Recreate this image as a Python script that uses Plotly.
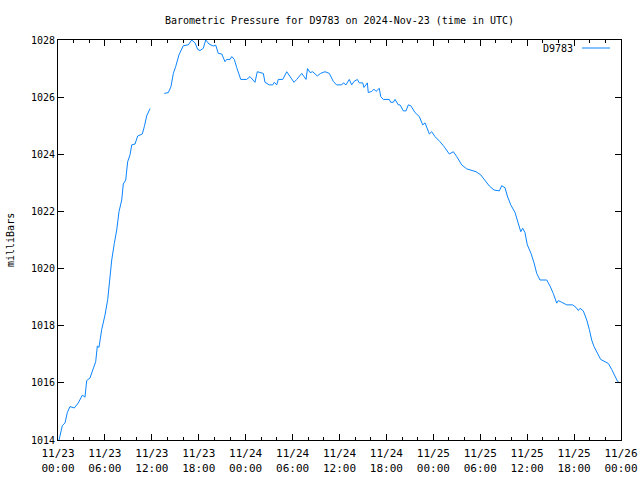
import pandas as pd
import plotly.graph_objects as go

start = pd.Timestamp("2024-11-23 00:00")
end = pd.Timestamp("2024-11-26 00:00")

# hours since 2024-11-23 00:00 UTC (None marks a gap in the record)
hours = [0.13, 0.26, 0.55, 0.90, 1.19, 1.53, 2.08, 2.60, 3.11, 3.45, 3.67, 4.09, 4.51, 4.82,
         5.03, 5.24, 5.59, 6.01, 6.36, 6.65, 6.87, 7.20, 7.51, 7.80, 8.15, 8.35, 8.66, 8.91,
         9.21, 9.43, 9.85, 10.19, 10.78, 11.04, 11.34, 11.77, 12.6,
         13.59, 14.11, 14.45, 14.75, 15.05, 15.47, 16.02, 16.66, 17.10, 17.52, 17.87, 18.16,
         18.58, 18.89, 19.31, 19.86, 20.17, 20.50, 20.94, 21.36, 21.58, 22.00, 22.22, 22.55,
         22.85, 23.06, 23.37, 24.13, 24.55, 25.19, 25.49, 26.26, 26.47, 27.02, 27.46, 27.66,
         27.97, 28.17, 28.74, 29.25, 29.67, 30.18, 30.53, 31.17, 31.46, 31.72, 31.91, 32.23,
         32.57, 32.87, 33.16, 33.57, 34.15, 34.70, 35.00, 35.21, 35.62, 36.28, 36.49, 36.83,
         37.25, 37.56, 37.86, 38.28, 38.53, 38.97, 39.13, 39.56, 39.68, 40.12, 40.41, 40.67,
         41.09, 41.27, 41.60, 42.37, 42.55, 42.88, 43.10, 43.52, 43.74, 44.16, 44.51, 44.80,
         45.11, 45.66, 46.21, 46.64, 46.94, 47.16, 47.49, 47.79, 48.21, 48.85, 49.37, 50.04,
         50.56, 50.99, 51.63, 52.27, 52.91, 53.46, 54.06, 54.61, 55.16, 55.76, 56.44, 56.74,
         57.17, 57.46, 57.90, 58.45, 58.87, 59.18, 59.43, 59.72, 60.02, 60.49, 60.88, 61.22,
         61.64, 62.50, 62.92, 63.34, 63.78, 63.98, 64.42, 65.06, 65.83, 66.25, 66.55, 66.76,
         67.18, 67.62, 67.95, 68.25, 68.55, 68.89, 69.40, 69.96, 70.38, 70.81, 71.23, 71.58,
         71.87]

pressure = [1014.0, 1014.2, 1014.5, 1014.6, 1014.96, 1015.17, 1015.12, 1015.3, 1015.57, 1015.5,
            1016.08, 1016.17, 1016.52, 1016.74, 1017.29, 1017.24, 1017.87, 1018.37, 1018.92,
            1019.72, 1020.3, 1020.88, 1021.35, 1021.99, 1022.4, 1022.96, 1023.1, 1023.74,
            1023.98, 1024.33, 1024.36, 1024.64, 1024.71, 1024.97, 1025.34, 1025.6, None,
            1026.13, 1026.16, 1026.37, 1026.83, 1027.07, 1027.48, 1027.8, 1027.83, 1028.0,
            1027.9, 1027.67, 1027.63, 1027.71, 1028.0, 1027.86, 1027.79, 1027.82, 1027.53,
            1027.51, 1027.24, 1027.32, 1027.32, 1027.42, 1027.32, 1027.04, 1026.89, 1026.62,
            1026.62, 1026.72, 1026.52, 1026.89, 1026.83, 1026.52, 1026.43, 1026.43, 1026.52,
            1026.43, 1026.62, 1026.62, 1026.89, 1026.72, 1026.52, 1026.62, 1026.83, 1026.72,
            1026.62, 1027.0, 1026.86, 1026.89, 1026.83, 1026.74, 1026.83, 1026.89, 1026.83,
            1026.69, 1026.55, 1026.43, 1026.43, 1026.5, 1026.43, 1026.62, 1026.43, 1026.55,
            1026.62, 1026.5, 1026.5, 1026.34, 1026.5, 1026.16, 1026.2, 1026.28, 1026.2,
            1026.31, 1026.02, 1025.92, 1025.92, 1025.82, 1025.82, 1025.92, 1025.73, 1025.73,
            1025.52, 1025.52, 1025.73, 1025.7, 1025.46, 1025.32, 1025.03, 1025.1, 1024.94,
            1024.71, 1024.79, 1024.62, 1024.44, 1024.27, 1024.01, 1024.09, 1023.92, 1023.63,
            1023.49, 1023.43, 1023.39, 1023.28, 1023.1, 1022.89, 1022.75, 1022.72, 1022.9,
            1022.83, 1022.54, 1022.23, 1021.96, 1021.58, 1021.29, 1021.41, 1021.26, 1020.83,
            1020.53, 1020.2, 1019.83, 1019.6, 1019.6, 1019.39, 1019.13, 1018.79, 1018.88,
            1018.82, 1018.73, 1018.73, 1018.64, 1018.53, 1018.61, 1018.52, 1018.2, 1017.87,
            1017.5, 1017.27, 1017.09, 1016.82, 1016.74, 1016.68, 1016.47, 1016.24, 1016.04,
            1016.0]

station = "D9783"
title_text = "Barometric Pressure for D9783 on 2024-Nov-23 (time in UTC)"
y_label = "milliBars"

times = [start + pd.Timedelta(hours=h) for h in hours]

FONT = "DejaVu Sans Mono"
LINE_COLOR = "#0a84ff"

fig = go.Figure()
fig.add_trace(go.Scatter(x=times, y=pressure, mode="lines", connectgaps=False,
                         line=dict(color=LINE_COLOR, width=1), showlegend=False))

W, H = 640, 480
L, R, T, B = 58, 19, 40, 40
pw = W - L - R
ph = H - T - B

fig.update_layout(
    width=W, height=H,
    margin=dict(l=L, r=R, t=T, b=B, autoexpand=False),
    paper_bgcolor="white", plot_bgcolor="white",
    font=dict(family=FONT, size=10, color="black"),
    title=dict(text=title_text, x=(L + pw / 2) / W, xanchor="center",
               y=1 - 20 / H, yanchor="middle", font=dict(family=FONT, size=10)),
)

fig.update_xaxes(
    type="date", range=[start, end], automargin=False,
    dtick=6 * 3600 * 1000, tick0=start, tickformat="%m/%d<br>%H:%M",
    ticks="inside", ticklen=6, tickcolor="black", tickwidth=1, ticklabelstandoff=3,
    minor=dict(dtick=2 * 3600 * 1000, ticks="inside", ticklen=3, tickcolor="black", showgrid=False),
    showline=True, linecolor="black", linewidth=1, mirror="allticks",
    showgrid=False, zeroline=False, tickfont=dict(family=FONT, size=11),
)
fig.update_yaxes(
    range=[1014, 1028], dtick=2, tick0=1014, automargin=False,
    ticks="inside", ticklen=6, tickcolor="black", tickwidth=1,
    showline=True, linecolor="black", linewidth=1, mirror="allticks",
    showgrid=False, zeroline=False, tickfont=dict(family=FONT, size=10),
)

# y-axis label
fig.add_annotation(text=y_label, xref="paper", yref="paper",
                   x=-(L - 10) / pw, y=0.5, textangle=-90, showarrow=False,
                   xanchor="center", yanchor="middle", font=dict(family=FONT, size=10))

# gnuplot-style key: text then line sample
fig.add_annotation(text=station, xref="paper", yref="paper",
                   x=(575 - L) / pw, y=1 - (48 - T) / ph, xanchor="right", yanchor="middle",
                   showarrow=False, font=dict(family=FONT, size=10))
fig.add_shape(type="line", xref="paper", yref="paper",
              x0=(582 - L) / pw, x1=(610 - L) / pw,
              y0=1 - (48 - T) / ph, y1=1 - (48 - T) / ph,
              line=dict(color=LINE_COLOR, width=1))

fig.write_html("out.html")
